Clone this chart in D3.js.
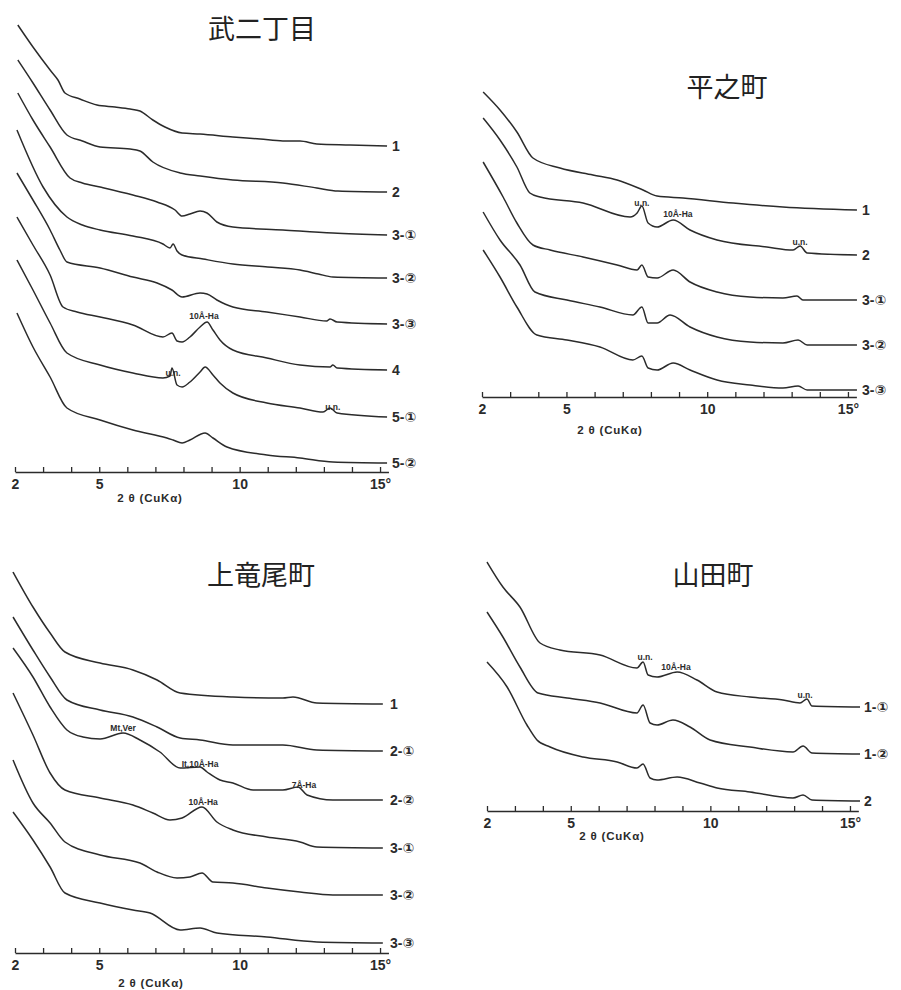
<!DOCTYPE html>
<html><head><meta charset="utf-8">
<script src="https://cdn.jsdelivr.net/npm/d3@7/dist/d3.min.js"></script>
<style>body{margin:0;background:#fff}</style>
</head><body>
<svg id="c" width="901" height="990"></svg>
<script>
// ---------- axis data ----------
const tickValues = [2,3,4,5,6,7,8,9,10,11,12,13,14,15];
const labeledTicks = [2,5,10,15];
const labeledTickText = ["2","5","10","15°"];
const xAxisTitle = "2 θ (CuKα)";

// ---------- 武二丁目 ----------
const p1Names = ["1","2","3-①","3-②","3-③","4","5-①","5-②"];
const p1_1 = [[2.1,447],[2.64,425],[3.25,402],[3.53,392],[3.78,379],[4.31,373],[4.92,367],[5.56,365],[6.1,363],[6.45,361],[6.91,352],[7.34,345],[7.95,339],[8.59,338],[9.76,335],[10.73,333],[11.54,331],[12.15,331],[12.75,328],[13.93,327],[15.25,326]];
const p1_2 = [[2.1,412],[2.64,389],[3.25,362],[3.85,337],[4.4,331],[5.03,325],[6.1,323],[6.45,321],[6.91,310],[7.88,299],[8.6,296],[9.76,292],[11.54,289],[12.75,284],[13.5,281],[15.25,280]];
const p1_3a = [[2.1,379],[2.64,352],[3.25,325],[3.96,294],[4.4,289],[5.03,285],[6.2,277],[7.06,270],[7.7,262],[7.95,256],[8.23,258],[8.59,261],[8.84,259],[9.19,250],[9.76,245],[11.54,242],[13.32,239],[15.25,237]];
const p1_3b = [[2.07,342],[3.0,285],[3.85,255],[4.4,247],[5.03,242],[6.2,236],[7.27,228],[7.52,224],[7.63,228],[7.77,221],[7.95,217],[8.7,213],[9.76,208],[11.0,205],[12.15,202],[12.8,198],[13.32,195],[15.25,194]];
const p1_3c = [[2.07,299],[2.64,272],[3.25,242],[3.6,222],[3.85,210],[5.03,204],[6.2,195],[7.06,189],[7.59,182],[7.95,175],[8.59,179],[8.84,178],[9.19,172],[9.76,165],[10.97,160],[12.15,155],[13.1,151],[13.22,153],[13.47,150],[15.25,148]];
const p1_4 = [[2.07,255],[2.64,227],[3.25,197],[3.71,165],[4.21,160],[5.03,155],[6.2,147],[7.27,135],[7.59,139],[7.77,131],[7.95,130],[8.23,135],[8.59,145],[8.84,150],[9.05,142],[9.3,132],[9.76,122],[10.97,114],[12.15,107],[13.22,105],[13.32,107],[13.47,104],[15.25,102]];
const p1_5a = [[2.07,212],[2.64,182],[3.25,149],[3.85,119],[5.03,107],[6.2,99],[7.27,94],[7.52,96],[7.59,104],[7.77,87],[7.95,85],[8.23,90],[8.59,100],[8.77,105],[9.05,97],[9.3,89],[9.76,79],[10.97,69],[12.15,64],[12.97,60],[13.22,64],[13.47,59],[15.25,55]];
const p1_5b = [[2.07,159],[2.64,125],[3.25,95],[3.85,64],[5.03,52],[6.2,42],[7.41,34],[7.63,32],[7.95,29],[8.23,32],[8.77,39],[9.05,34],[9.55,25],[10.97,17],[12.15,14],[13.32,10],[15.25,9]];
const p1Notes = ["10Å-Ha","u.n.","u.n."];
const p1NotePos = [[8.73,156],[7.63,99],[13.32,65]];

// ---------- 平之町 ----------
const p2Names = ["1","2","3-①","3-②","3-③"];
const p2_1 = [[2.04,305],[2.64,287],[3.24,265],[3.81,239],[4.77,229],[5.94,222],[6.8,217],[7.72,207],[8.22,201],[9.14,199],[10.92,194],[12.69,190],[15.32,187]];
const p2_2 = [[2.04,279],[2.64,257],[3.24,230],[3.7,204],[4.06,200],[5.59,194],[7.26,180],[7.51,184],[7.68,191],[7.9,174],[8.22,170],[8.79,177],[9.39,167],[10.35,157],[12.12,150],[13.05,147],[13.3,151],[13.55,144],[15.32,142]];
const p2_3a = [[2.04,235],[2.75,200],[3.24,174],[3.81,152],[4.42,147],[5.59,140],[6.8,132],[7.51,127],[7.68,132],[7.9,120],[8.22,119],[8.79,127],[9.39,115],[10.35,105],[11.52,100],[12.69,99],[13.19,101],[13.4,97],[15.32,97]];
const p2_3b = [[2.04,185],[2.64,157],[3.35,132],[3.88,105],[5.02,97],[6.19,90],[7.36,82],[7.68,90],[7.9,74],[8.22,74],[8.68,82],[9.39,70],[10.35,60],[11.52,55],[12.69,54],[13.23,57],[13.55,52],[15.32,52]];
const p2_3c = [[2.04,147],[2.64,120],[3.24,90],[3.95,62],[5.02,57],[6.19,50],[7.36,37],[7.68,41],[7.9,29],[8.22,27],[8.79,34],[9.39,27],[10.35,17],[11.52,12],[12.69,9],[13.23,11],[13.55,7],[15.32,7]];
const p2Notes = ["u.n.","10Å-Ha","u.n."];
const p2NotePos = [[7.68,194],[8.96,183],[13.3,155]];

// ---------- 上竜尾町 ----------
const p3Names = ["1","2-①","2-②","3-①","3-②","3-③"];
const p3_1 = [[1.93,381],[2.64,346],[3.25,320],[3.78,301],[5.03,290],[6.2,283],[7.06,273],[7.88,260],[9.76,256],[11.54,255],[11.9,256],[12.75,250],[15.1,249]];
const p3_2a = [[1.93,336],[2.64,303],[3.25,276],[3.85,253],[5.03,243],[6.2,236],[7.06,226],[7.88,215],[8.59,213],[9.76,208],[11.54,208],[12.75,203],[15.1,202]];
const p3_2b = [[1.93,305],[2.64,276],[3.25,246],[3.85,223],[4.42,216],[5.03,214],[5.85,220],[6.45,213],[7.16,201],[7.88,185],[8.59,186],[8.84,181],[9.3,173],[9.76,170],[10.48,163],[11.54,163],[12.08,166],[12.4,158],[13.32,153],[15.1,153]];
const p3_3a = [[1.93,260],[2.64,218],[3.25,180],[3.78,163],[5.03,155],[6.2,148],[6.91,140],[7.52,133],[7.95,135],[8.66,146],[9.19,131],[9.76,123],[10.97,116],[12.15,111],[12.75,106],[15.1,105]];
const p3_3b = [[1.93,193],[2.64,150],[3.25,130],[3.78,111],[5.03,98],[6.45,90],[7.06,81],[7.77,75],[8.23,76],[8.66,80],[9.05,71],[9.76,70],[10.97,65],[12.15,61],[13.32,58],[15.1,58]];
const p3_3c = [[1.93,141],[2.64,113],[3.25,86],[3.78,60],[5.03,50],[6.2,43],[6.81,40],[7.88,23],[8.59,25],[9.19,20],[10.97,16],[12.75,11],[15.1,10]];
const p3Notes = ["Mt,Ver","It,10Å-Ha","7Å-Ha","10Å-Ha"];
const p3NotePos = [[5.85,225],[8.59,189],[12.29,168],[8.7,151]];

// ---------- 山田町 ----------
const p4Names = ["1-①","1-②","2"];
const p4_1a = [[2.0,249],[2.57,224],[3.18,204],[3.9,168],[4.61,161],[6.05,156],[7.37,143],[7.59,149],[7.77,136],[8.09,134],[8.81,139],[9.52,131],[10.24,119],[11.42,114],[12.6,111],[13.21,108],[13.46,112],[13.64,105],[15.36,104]];
const p4_1b = [[2.0,199],[2.57,174],[3.18,144],[3.83,118],[4.87,113],[6.05,108],[7.37,98],[7.59,106],[7.84,88],[8.09,86],[8.66,91],[9.27,84],[9.99,71],[11.42,64],[12.96,59],[13.32,65],[13.64,58],[15.36,57]];
const p4_2 = [[2.0,149],[2.72,124],[3.43,86],[3.79,71],[4.26,64],[5.44,54],[6.66,49],[7.37,43],[7.59,47],[7.84,33],[8.09,31],[8.81,34],[9.63,28],[10.24,23],[11.42,19],[12.96,13],[13.32,16],[13.64,11],[15.36,10]];
const p4Notes = ["u.n.","10Å-Ha","u.n."];
const p4NotePos = [[7.66,154],[8.77,144],[13.39,116]];

const titles = ["武二丁目","平之町","上竜尾町","山田町"];

// ---------- layout (positions only) ----------
const layout = [
  {x0:15,  k:28.08, axisY:472, labelX:392, title:[262,27], xt:[150,498]},
  {x0:482, k:28.15, axisY:397, labelX:862, title:[727,85], xt:[610,430]},
  {x0:15,  k:28.08, axisY:953, labelX:390, title:[261,573], xt:[151,983]},
  {x0:487, k:27.92, axisY:811, labelX:864, title:[713,573], xt:[612,836]}
];
const panelSeries = [
  [p1_1,p1_2,p1_3a,p1_3b,p1_3c,p1_4,p1_5a,p1_5b],
  [p2_1,p2_2,p2_3a,p2_3b,p2_3c],
  [p3_1,p3_2a,p3_2b,p3_3a,p3_3b,p3_3c],
  [p4_1a,p4_1b,p4_2]
];
const panelNames = [p1Names,p2Names,p3Names,p4Names];
const panelNotes = [p1Notes,p2Notes,p3Notes,p4Notes];
const panelNotePos = [p1NotePos,p2NotePos,p3NotePos,p4NotePos];

const ink = "#2b2b2b";
const svg = d3.select("#c");
svg.append("rect").attr("width",901).attr("height",990).attr("fill","#fff");

layout.forEach((L,i)=>{
  const g = svg.append("g");
  const x = d3.scaleLinear().domain([2,15.3]).range([L.x0, L.x0 + 13.3*L.k]);
  const y = d3.scaleLinear().domain([0,500]).range([L.axisY, L.axisY-500]);
  const line = d3.line().x(d=>x(d[0])).y(d=>y(d[1])).curve(d3.curveMonotoneX);

  // axis
  const ax = d3.axisBottom(x).tickValues(tickValues).tickSize(-5).tickSizeOuter(0).tickPadding(7)
    .tickFormat(d=>{const j=labeledTicks.indexOf(d);return j>=0?labeledTickText[j]:"";});
  const ag = g.append("g").attr("transform",`translate(0,${L.axisY})`).call(ax);
  ag.select(".domain").attr("stroke",ink).attr("stroke-width",1.5);
  ag.selectAll(".tick line").attr("stroke",ink).attr("stroke-width",1.3);
  ag.selectAll(".tick text").attr("fill",ink).attr("font-size",14).attr("font-weight","bold")
    .attr("font-family","Liberation Sans, Arial, sans-serif");

  g.append("text").attr("x",L.xt[0]).attr("y",L.xt[1]).attr("text-anchor","middle")
    .attr("dominant-baseline","central").attr("font-size",11.5).attr("font-weight","bold")
    .attr("letter-spacing",0.8)
    .attr("font-family","Liberation Sans, Arial, sans-serif").attr("fill",ink).text(xAxisTitle);

  // title
  g.append("text").attr("x",L.title[0]).attr("y",L.title[1]).attr("text-anchor","middle")
    .attr("dominant-baseline","central").attr("font-size",27)
    .attr("font-family","Noto Sans CJK JP, sans-serif").attr("fill","#222").text(titles[i]);

  // traces
  panelSeries[i].forEach((s,j)=>{
    g.append("path").attr("d",line(s)).attr("fill","none").attr("stroke",ink)
      .attr("stroke-width",1.5).attr("stroke-linejoin","round");
    const last = s[s.length-1];
    g.append("text").attr("x",L.labelX).attr("y",y(last[1])).attr("dominant-baseline","central")
      .attr("font-size",14).attr("font-weight","bold")
      .attr("font-family","Liberation Sans, DejaVu Sans, sans-serif").attr("fill",ink)
      .text(panelNames[i][j]);
  });

  // peak notes
  panelNotes[i].forEach((t,j)=>{
    const p = panelNotePos[i][j];
    g.append("text").attr("x",x(p[0])).attr("y",y(p[1])).attr("text-anchor","middle")
      .attr("dominant-baseline","central").attr("font-size",8.5).attr("font-weight","bold")
      .attr("font-family","Liberation Sans, Arial, sans-serif").attr("fill",ink).text(t);
  });
});
</script>
</body></html>
